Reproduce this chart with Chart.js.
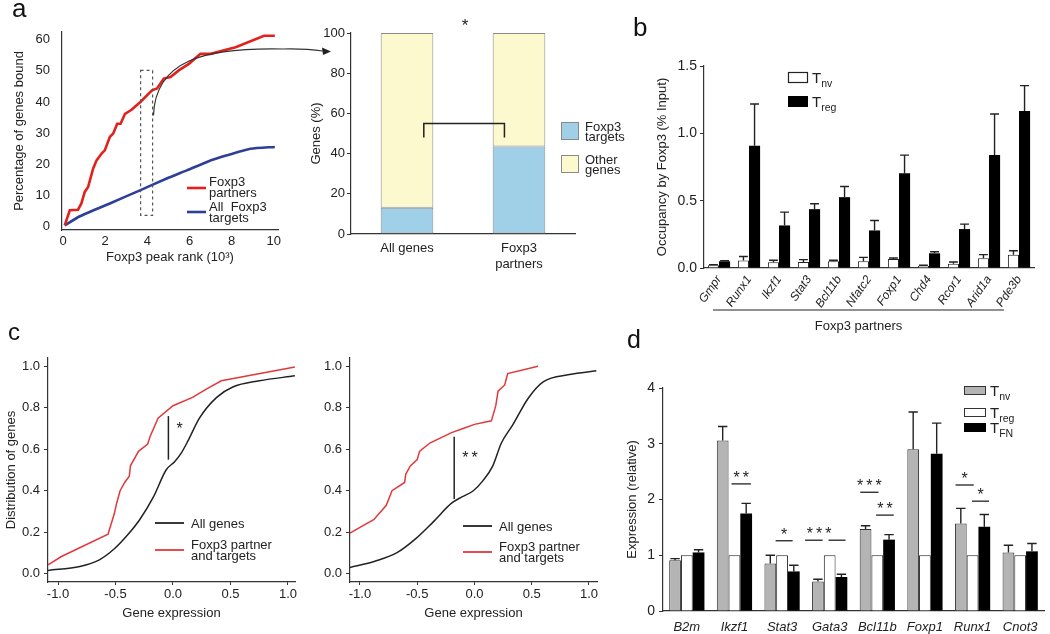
<!DOCTYPE html>
<html>
<head>
<meta charset="utf-8">
<script src="https://cdn.jsdelivr.net/npm/chart.js@4.4.0/dist/chart.umd.min.js"></script>
<style>
  body { margin: 0; background: #fff; font-family: "Liberation Sans", Arial, sans-serif; }
  #page { position: relative; width: 1050px; height: 634px; overflow: hidden; background: #fff; }
  canvas { position: absolute; }
  .lbl { position: absolute; line-height: 1; color: #111; }
</style>
</head>
<body>
<div id="page">
  <canvas id="aLine" width="340" height="270" style="left:0;top:0"></canvas>
  <canvas id="aBar" width="345" height="275" style="left:290px;top:0"></canvas>
  <canvas id="bBar" width="420" height="300" style="left:630px;top:40px"></canvas>
  <canvas id="cLeft" width="320" height="330" style="left:0;top:300px"></canvas>
  <canvas id="cRight" width="320" height="330" style="left:320px;top:300px"></canvas>
  <canvas id="dBar" width="430" height="264" style="left:620px;top:370px"></canvas>
  <div class="lbl" style="left:12px;top:-5px;font-size:26px">a</div>
  <div class="lbl" style="left:633px;top:14px;font-size:26px">b</div>
  <div class="lbl" style="left:8px;top:320px;font-size:24px">c</div>
  <div class="lbl" style="left:627px;top:327px;font-size:25px">d</div>
</div>
<script>
// a (left): fraction of genes bound vs Foxp3 peak rank
const aRankPartners = [0.08, 0.32, 0.71, 0.87, 1.03, 1.19, 1.43, 1.59, 1.83, 1.98, 2.22, 2.38, 2.57, 2.73, 2.94, 3.25, 3.67, 4.22, 4.46, 4.78, 5.1, 5.49, 5.97, 6.52, 7.0, 8.19, 9.54, 10.05];
const aPctPartners  = [0.5, 5.3, 5.5, 7.5, 11.2, 12.8, 18.7, 21.3, 23.5, 24.5, 28.8, 29.9, 33, 33, 36.2, 37.5, 40, 43.7, 44.3, 47.5, 48, 50.1, 52.2, 55.4, 55.4, 57.5, 61.2, 61.2];
const aRankAll = [0.08, 0.8, 2.22, 3.65, 4.92, 5.87, 6.83, 7.78, 8.9, 10.05];
const aPctAll  = [0.5, 3.4, 7.5, 11.7, 15.5, 18.1, 20.8, 22.9, 25, 25.6];
const aRankTicks = [0, 2, 4, 6, 8, 10];
const aPctTicks = [0, 10, 20, 30, 40, 50, 60];

// a (right): stacked percentages
const aBarCats = [['All genes'], ['Foxp3', 'partners']];
const aTargets = [13, 43.5];
const aOther = [87, 56.5];
const aBarTicks = [0, 20, 40, 60, 80, 100];

// b: occupancy by Foxp3
const bGenes = ['Gmpr', 'Runx1', 'Ikzf1', 'Stat3', 'Bcl11b', 'Nfatc2', 'Foxp1', 'Chd4', 'Rcor1', 'Arid1a', 'Pde3b'];
const bTnv    = [0.02, 0.055, 0.042, 0.045, 0.05, 0.05, 0.067, 0.017, 0.032, 0.072, 0.099];
const bTnvErr = [0.025, 0.085, 0.057, 0.062, 0.057, 0.079, 0.074, 0.02, 0.044, 0.099, 0.128];
const bTreg    = [0.05, 0.907, 0.316, 0.437, 0.526, 0.279, 0.704, 0.109, 0.289, 0.84, 1.166];
const bTregErr = [0.055, 1.218, 0.415, 0.477, 0.605, 0.353, 0.838, 0.121, 0.326, 1.144, 1.354];
const bTicks = [0, 0.5, 1, 1.5];

// c: cumulative distributions
const c1AllX = [-1.087, -0.81, -0.64, -0.51, -0.39, -0.29, -0.17, -0.06, 0.014, 0.07, 0.13, 0.23, 0.38, 0.52, 0.75, 1.06];
const c1AllY = [0.016, 0.035, 0.067, 0.12, 0.19, 0.26, 0.37, 0.50, 0.54, 0.58, 0.64, 0.75, 0.85, 0.90, 0.93, 0.954];
const c1PartX = [-1.087, -0.97, -0.565, -0.51, -0.49, -0.46, -0.42, -0.38, -0.37, -0.30, -0.22, -0.20, -0.13, 0.0, 0.17, 0.29, 0.42, 1.06];
const c1PartY = [0.043, 0.083, 0.19, 0.29, 0.34, 0.40, 0.44, 0.47, 0.52, 0.59, 0.625, 0.66, 0.75, 0.81, 0.85, 0.89, 0.93, 0.997];
const c2AllX = [-1.087, -0.87, -0.68, -0.51, -0.36, -0.20, -0.11, -0.01, 0.076, 0.16, 0.235, 0.337, 0.468, 0.6, 0.83, 1.064];
const c2AllY = [0.03, 0.06, 0.10, 0.17, 0.25, 0.34, 0.37, 0.40, 0.45, 0.52, 0.63, 0.72, 0.845, 0.925, 0.96, 0.978];
const c2PartX = [-1.087, -1.0, -0.88, -0.77, -0.72, -0.61, -0.60, -0.56, -0.5, -0.48, -0.39, -0.20, -0.10, 0.0, 0.148, 0.186, 0.206, 0.264, 0.29, 0.555];
const c2PartY = [0.196, 0.223, 0.26, 0.33, 0.40, 0.44, 0.48, 0.52, 0.55, 0.59, 0.63, 0.68, 0.70, 0.72, 0.737, 0.81, 0.88, 0.91, 0.965, 1.0];
const cXTicks = [-1, -0.5, 0, 0.5, 1];
const cYTicks = [0, 0.2, 0.4, 0.6, 0.8, 1];

// d: relative expression
const dGenes = ['B2m', 'Ikzf1', 'Stat3', 'Gata3', 'Bcl11b', 'Foxp1', 'Runx1', 'Cnot3'];
const dTnv    = [0.91, 3.06, 0.85, 0.53, 1.47, 2.9, 1.57, 1.05];
const dTnvErr = [0.94, 3.31, 1.0, 0.57, 1.53, 3.57, 1.84, 1.18];
const dTreg   = [1, 1, 1, 1, 1, 1, 1, 1];
const dTfn    = [1.05, 1.75, 0.71, 0.61, 1.28, 2.82, 1.51, 1.07];
const dTfnErr = [1.10, 1.93, 0.82, 0.66, 1.37, 3.37, 1.73, 1.21];
const dTicks = [0, 1, 2, 3, 4];
// significance: category, span in bar widths from the group centre, y value, stars
const dSig = [
  { cat: 1, from: -0.25, to: 1.4, y: 2.28, text: '**' },
  { cat: 2, from: -0.55, to: 0.9, y: 1.26, text: '*' },
  { cat: 3, from: -2.1, to: -0.6, y: 1.27, text: '' },
  { cat: 3, from: -0.1, to: 1.35, y: 1.27, text: '' },
  { cat: 3, from: -0.9, to: -0.9, y: 1.27, text: '***', noLine: true },
  { cat: 4, from: -1.45, to: 0.1, y: 2.13, text: '***' },
  { cat: 4, from: -0.1, to: 1.4, y: 1.72, text: '**' },
  { cat: 6, from: -1.45, to: 0.1, y: 2.26, text: '*' },
  { cat: 6, from: -0.05, to: 1.4, y: 1.97, text: '*' }
];

Chart.defaults.font.family = '"Liberation Sans", Arial, sans-serif';
Chart.defaults.font.size = 13;
Chart.defaults.color = '#222';
Chart.defaults.animation = false;
Chart.defaults.plugins.legend.display = false;
Chart.defaults.plugins.tooltip.enabled = false;

const FONT = '"Liberation Sans", Arial, sans-serif';
const pts = (xs, ys) => xs.map((x, i) => ({ x: x, y: ys[i] }));
const setTicks = vals => s => { s.ticks = vals.map(v => ({ value: v })); };

function yAxis(w, extra) {
  return Object.assign({
    afterFit: s => { s.width = w; },
    grid: { display: true, drawOnChartArea: false, color: '#333', tickLength: 4 },
    border: { color: '#333', width: 1.2 },
    ticks: { padding: 3, color: '#222' }
  }, extra);
}
function xAxis(h, extra) {
  return Object.assign({
    afterFit: s => { s.height = h; },
    grid: { display: false, tickLength: 3 },
    border: { color: '#333', width: 1.2 },
    ticks: { padding: 3, color: '#222' }
  }, extra);
}

function text(ctx, str, x, y, size, align, style) {
  ctx.font = (style || '') + ' ' + size + 'px ' + FONT;
  ctx.textAlign = align || 'left';
  ctx.textBaseline = 'alphabetic';
  ctx.fillStyle = '#222';
  ctx.fillText(str, x, y);
}
function subT(ctx, sub, x, y, size) {
  text(ctx, 'T', x, y, size);
  const w = ctx.measureText('T').width;
  text(ctx, sub, x + w, y + 4, size * 0.7);
}

const errorBars = {
  id: 'errorBars',
  afterDatasetsDraw(chart) {
    const ctx = chart.ctx, y = chart.scales.y;
    chart.data.datasets.forEach((ds, i) => {
      if (!ds.err) return;
      chart.getDatasetMeta(i).data.forEach((bar, j) => {
        const yt = y.getPixelForValue(ds.err[j]);
        const half = Math.max(2.5, bar.width * 0.4);
        ctx.save();
        ctx.strokeStyle = '#222';
        ctx.lineWidth = 1.4;
        ctx.beginPath();
        ctx.moveTo(bar.x, bar.y);
        ctx.lineTo(bar.x, yt);
        ctx.moveTo(bar.x - half, yt);
        ctx.lineTo(bar.x + half, yt);
        ctx.stroke();
        ctx.restore();
      });
    });
  }
};

// ---------- a left ----------
new Chart(document.getElementById('aLine'), {
  type: 'line',
  data: {
    datasets: [
      { data: pts(aRankPartners, aPctPartners), borderColor: '#e3211c', borderWidth: 2.6, pointRadius: 0, tension: 0 },
      { data: pts(aRankAll, aPctAll), borderColor: '#2e3f98', borderWidth: 2.6, pointRadius: 0, tension: 0.2 }
    ]
  },
  options: {
    responsive: false,
    layout: { padding: { left: 8, right: 62, top: 32, bottom: 1 } },
    scales: {
      x: xAxis(39, { type: 'linear', min: -0.05, max: 10.2, afterBuildTicks: setTicks(aRankTicks),
        ticks: { padding: 1, color: '#222' },
        title: { display: true, text: 'Foxp3 peak rank (10³)', padding: 4 } }),
      y: yAxis(54, { min: -1, max: 62.4, afterBuildTicks: setTicks(aPctTicks),
        grid: { display: false, tickLength: 8 },
        ticks: { padding: 4, color: '#222' },
        title: { display: true, text: 'Percentage of genes bound', padding: 4 } })
    }
  },
  plugins: [{
    id: 'aDecor',
    afterDraw(chart) {
      const ctx = chart.ctx, xs = chart.scales.x, ys = chart.scales.y;
      ctx.save();
      // dashed box around the zoomed window
      ctx.setLineDash([3, 3]);
      ctx.strokeStyle = '#555';
      ctx.lineWidth = 1.2;
      const x1 = xs.getPixelForValue(3.68), x2 = xs.getPixelForValue(4.25);
      const y1 = ys.getPixelForValue(50.1), y2 = ys.getPixelForValue(3.7);
      ctx.strokeRect(x1, y1, x2 - x1, y2 - y1);
      ctx.setLineDash([]);
      // curved arrow to the bar panel
      const sx = xs.getPixelForValue(4.29), sy = ys.getPixelForValue(35.7);
      ctx.strokeStyle = '#333';
      ctx.lineWidth = 1.2;
      ctx.beginPath();
      ctx.moveTo(sx, sy);
      ctx.bezierCurveTo(sx + 2, sy - 55, sx + 50, sy - 68, 283, 49);
      ctx.quadraticCurveTo(305, 48.5, 323, 51);
      ctx.stroke();
      ctx.fillStyle = '#222';
      ctx.beginPath();
      ctx.moveTo(331, 51.5);
      ctx.lineTo(322, 47.5);
      ctx.lineTo(323, 55);
      ctx.closePath();
      ctx.fill();
      // legend
      ctx.lineWidth = 2.6;
      ctx.strokeStyle = '#e3211c';
      ctx.beginPath(); ctx.moveTo(187, 188); ctx.lineTo(206, 188); ctx.stroke();
      ctx.strokeStyle = '#2e3f98';
      ctx.beginPath(); ctx.moveTo(187, 212); ctx.lineTo(206, 212); ctx.stroke();
      text(ctx, 'Foxp3', 209, 186, 13);
      text(ctx, 'partners', 209, 197, 13);
      text(ctx, 'All  Foxp3', 209, 211, 13);
      text(ctx, 'targets', 209, 222, 13);
      ctx.restore();
    }
  }]
});

// ---------- a right ----------
new Chart(document.getElementById('aBar'), {
  type: 'bar',
  data: {
    labels: aBarCats,
    datasets: [
      { label: 'Foxp3 targets', data: aTargets, backgroundColor: '#9fd0e8', borderColor: '#8a8a8a', borderWidth: 1, borderSkipped: false },
      { label: 'Other genes', data: aOther, backgroundColor: '#fcf9cf', borderColor: '#8a8a8a', borderWidth: 1, borderSkipped: false }
    ]
  },
  options: {
    responsive: false,
    datasets: { bar: { barPercentage: 0.47, categoryPercentage: 1 } },
    layout: { padding: { left: 15, right: 60, top: 33, bottom: 0 } },
    scales: {
      x: xAxis(41, { stacked: true, ticks: { padding: 4, color: '#222' } }),
      y: yAxis(46, { stacked: true, min: 0, max: 100, afterBuildTicks: setTicks(aBarTicks),
        ticks: { padding: 2, color: '#222' },
        title: { display: true, text: 'Genes (%)', padding: 4 } })
    }
  },
  plugins: [{
    id: 'aBarDecor',
    afterDraw(chart) {
      const ctx = chart.ctx, xs = chart.scales.x, ys = chart.scales.y;
      const c0 = xs.getPixelForValue(0), c1 = xs.getPixelForValue(1), cw = c1 - c0;
      const bx1 = c0 + 0.15 * cw, bx2 = c1 - 0.13 * cw;
      ctx.save();
      ctx.strokeStyle = '#222';
      ctx.lineWidth = 1.5;
      ctx.beginPath();
      ctx.moveTo(bx1, ys.getPixelForValue(48));
      ctx.lineTo(bx1, ys.getPixelForValue(55));
      ctx.lineTo(bx2, ys.getPixelForValue(55));
      ctx.lineTo(bx2, ys.getPixelForValue(48));
      ctx.stroke();
      text(ctx, '*', (c0 + c1) / 2 + 2, chart.chartArea.top - 2, 17, 'center');
      // legend
      const items = [['#9fd0e8', 'Foxp3', 'targets', 122], ['#fcf9cf', 'Other', 'genes', 155]];
      items.forEach(it => {
        ctx.fillStyle = it[0];
        ctx.fillRect(271, it[3], 17, 17);
        ctx.strokeStyle = '#8a8a8a';
        ctx.lineWidth = 1;
        ctx.strokeRect(271.5, it[3] + 0.5, 17, 17);
        text(ctx, it[1], 295, it[3] + 9, 13);
        text(ctx, it[2], 295, it[3] + 19, 13);
      });
      ctx.restore();
    }
  }]
});

// ---------- b ----------
new Chart(document.getElementById('bBar'), {
  type: 'bar',
  data: {
    labels: bGenes,
    datasets: [
      { label: 'Tnv', data: bTnv, err: bTnvErr, backgroundColor: '#fff', borderColor: '#222', borderWidth: 1 },
      { label: 'Treg', data: bTreg, err: bTregErr, backgroundColor: '#000', borderColor: '#000', borderWidth: 0 }
    ]
  },
  options: {
    responsive: false,
    datasets: { bar: { barPercentage: 1, categoryPercentage: 0.74 } },
    layout: { padding: { left: 21, right: 16, top: 26, bottom: 0 } },
    scales: {
      x: xAxis(72, { ticks: { minRotation: 55, maxRotation: 55, autoSkip: false, padding: 2, color: '#222',
        font: { style: 'italic', size: 12 } } }),
      y: yAxis(53, { min: 0, max: 1.5, afterBuildTicks: setTicks(bTicks),
        ticks: { padding: 3, color: '#222', font: { size: 14 }, callback: v => v.toFixed(1) },
        title: { display: true, text: 'Occupancy by Foxp3 (% Input)', padding: 4 } })
    }
  },
  plugins: [errorBars, {
    id: 'bDecor',
    afterDraw(chart) {
      const ctx = chart.ctx, xs = chart.scales.x;
      const cw = xs.getPixelForValue(1) - xs.getPixelForValue(0);
      const x1 = xs.getPixelForValue(1) - 1.2 * cw, x2 = xs.getPixelForValue(9) + 0.5 * cw;
      ctx.save();
      ctx.strokeStyle = '#222';
      ctx.lineWidth = 1.2;
      ctx.beginPath(); ctx.moveTo(x1, 270); ctx.lineTo(x2, 270); ctx.stroke();
      text(ctx, 'Foxp3 partners', (x1 + x2) / 2, 290, 13, 'center');
      // legend
      ctx.fillStyle = '#fff';
      ctx.strokeStyle = '#222';
      ctx.strokeRect(158.5, 32.5, 19, 10);
      ctx.fillStyle = '#000';
      ctx.fillRect(158, 56, 20, 11);
      subT(ctx, 'nv', 182, 43, 15);
      subT(ctx, 'reg', 182, 67, 15);
      ctx.restore();
    }
  }]
});

// ---------- c ----------
function cChart(id, allX, allY, partX, partY, opts) {
  return new Chart(document.getElementById(id), {
    type: 'line',
    data: {
      datasets: [
        { data: pts(partX, partY), borderColor: '#e2383b', borderWidth: 1.5, pointRadius: 0, tension: 0 },
        { data: pts(allX, allY), borderColor: '#222', borderWidth: 1.5, pointRadius: 0, cubicInterpolationMode: 'monotone' }
      ]
    },
    options: {
      responsive: false,
      layout: { padding: opts.padding },
      scales: {
        x: xAxis(43, { type: 'linear', min: -1.087, max: opts.xmax, afterBuildTicks: setTicks(cXTicks),
          grid: { display: true, drawOnChartArea: false, color: '#333', tickLength: 3 },
          ticks: { padding: 2, color: '#222', callback: v => v.toFixed(1) },
          title: { display: true, text: 'Gene expression', padding: 4 } }),
        y: yAxis(opts.yw, { min: -0.04, max: 1.04, afterBuildTicks: setTicks(cYTicks),
          ticks: { padding: 4, color: '#222', callback: v => v.toFixed(1) },
          title: { display: !!opts.ytitle, text: opts.ytitle || '', padding: 4 } })
      }
    },
    plugins: [{
      id: 'cDecor',
      afterDraw(chart) {
        const ctx = chart.ctx, xs = chart.scales.x, ys = chart.scales.y;
        const s = opts.sig;
        ctx.save();
        ctx.strokeStyle = '#222';
        ctx.lineWidth = 1.5;
        const sx = xs.getPixelForValue(s.x);
        ctx.beginPath();
        ctx.moveTo(sx, ys.getPixelForValue(s.y1));
        ctx.lineTo(sx, ys.getPixelForValue(s.y2));
        ctx.stroke();
        ctx.font = '16px ' + FONT;
        ctx.letterSpacing = '3px';
        text(ctx, s.text, sx + 8, ys.getPixelForValue(s.ty) + 8, 16);
        ctx.letterSpacing = '0px';
        const L = opts.legend;
        ctx.lineWidth = 1.8;
        ctx.beginPath(); ctx.moveTo(L.x, L.y1); ctx.lineTo(L.x + 29, L.y1); ctx.stroke();
        ctx.strokeStyle = '#e2383b';
        ctx.beginPath(); ctx.moveTo(L.x, L.y2); ctx.lineTo(L.x + 29, L.y2); ctx.stroke();
        text(ctx, 'All genes', L.x + 36, L.y1 + 5, 13);
        text(ctx, 'Foxp3 partner', L.x + 36, L.y2 - 1, 13);
        text(ctx, 'and targets', L.x + 36, L.y2 + 10, 13);
        ctx.restore();
      }
    }]
  });
}
cChart('cLeft', c1AllX, c1AllY, c1PartX, c1PartY, {
  padding: { left: 0, right: 25, top: 58, bottom: 5 }, yw: 48, xmax: 1.061,
  ytitle: 'Distribution of genes',
  sig: { x: -0.04, y1: 0.55, y2: 0.76, ty: 0.71, text: '*' },
  legend: { x: 155, y1: 223, y2: 250 }
});
cChart('cRight', c2AllX, c2AllY, c2PartX, c2PartY, {
  padding: { left: 0, right: 43, top: 58, bottom: 5 }, yw: 30, xmax: 1.07,
  sig: { x: -0.177, y1: 0.36, y2: 0.66, ty: 0.57, text: '**' },
  legend: { x: 143, y1: 226, y2: 252 }
});

// ---------- d ----------
new Chart(document.getElementById('dBar'), {
  type: 'bar',
  data: {
    labels: dGenes,
    datasets: [
      { label: 'Tnv', data: dTnv, err: dTnvErr, backgroundColor: '#b4b4b4', borderColor: '#333', borderWidth: 1 },
      { label: 'Treg', data: dTreg, backgroundColor: '#fff', borderColor: '#222', borderWidth: 1 },
      { label: 'TFN', data: dTfn, err: dTfnErr, backgroundColor: '#000', borderColor: '#000', borderWidth: 0 }
    ]
  },
  options: {
    responsive: false,
    datasets: { bar: { barPercentage: 1, categoryPercentage: 0.74 } },
    layout: { padding: { left: 1, right: 6, top: 18, bottom: 0 } },
    scales: {
      x: xAxis(23, { ticks: { padding: 6, autoSkip: false, maxRotation: 0, color: '#222', font: { style: 'italic', size: 13 } } }),
      y: yAxis(42, { min: 0, max: 4, afterBuildTicks: setTicks(dTicks),
        ticks: { padding: 4, color: '#222', font: { size: 14 } },
        title: { display: true, text: 'Expression (relative)', padding: 4 } })
    }
  },
  plugins: [errorBars, {
    id: 'dDecor',
    afterDraw(chart) {
      const ctx = chart.ctx, xs = chart.scales.x, ys = chart.scales.y;
      const bw = chart.getDatasetMeta(0).data[0].width;
      ctx.save();
      ctx.strokeStyle = '#222';
      ctx.lineWidth = 1.3;
      dSig.forEach(m => {
        const c = xs.getPixelForValue(m.cat);
        const x1 = c + m.from * bw, x2 = c + m.to * bw, y = ys.getPixelForValue(m.y);
        if (!m.noLine) {
          ctx.beginPath(); ctx.moveTo(x1, y); ctx.lineTo(x2, y); ctx.stroke();
        }
        if (m.text) {
          ctx.letterSpacing = '3px';
          text(ctx, m.text, (x1 + x2) / 2 + 1.5, y - 1, 16, 'center');
          ctx.letterSpacing = '0px';
        }
      });
      // legend
      ctx.lineWidth = 1;
      ctx.fillStyle = '#b4b4b4';
      ctx.fillRect(344, 16, 22, 9);
      ctx.strokeStyle = '#333';
      ctx.strokeRect(344.5, 16.5, 21, 8);
      ctx.fillStyle = '#fff';
      ctx.strokeRect(344.5, 38.5, 21, 8);
      ctx.fillStyle = '#000';
      ctx.fillRect(344, 53, 22, 9);
      subT(ctx, 'nv', 370, 26, 15);
      subT(ctx, 'reg', 370, 48, 15);
      subT(ctx, 'FN', 370, 63, 15);
      ctx.restore();
    }
  }]
});
</script>
</body>
</html>
